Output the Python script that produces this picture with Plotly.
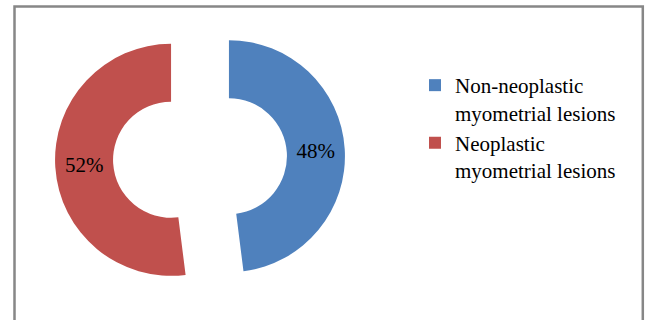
import plotly.graph_objects as go

categories = ["Non-neoplastic<br>myometrial lesions", "Neoplastic<br>myometrial lesions"]
values = [48, 52]
colors = ["#4F81BD", "#C0504D"]

W, H = 646, 320
FONT = "Liberation Serif, Times New Roman, serif"

fig = go.Figure(go.Pie(
    labels=categories,
    values=values,
    marker=dict(colors=colors, line=dict(width=0)),
    hole=0.5,
    pull=[0.25, 0.25],
    sort=False,
    direction="clockwise",
    rotation=0,
    textinfo="percent",
    textposition="inside",
    insidetextorientation="horizontal",
    insidetextfont=dict(family=FONT, size=21, color="black"),
    domain=dict(x=[55 / W, 345 / W], y=[1 - 303 / H, 1 - 13 / H]),
    hoverinfo="label+percent",
))

fig.update_layout(
    width=W, height=H,
    margin=dict(l=0, r=0, t=0, b=0),
    paper_bgcolor="white",
    plot_bgcolor="white",
    showlegend=True,
    uniformtext=dict(minsize=21, mode="show"),
    legend=dict(
        x=415 / W, xanchor="left",
        y=1 - 65 / H, yanchor="top",
        font=dict(family=FONT, size=21, color="black"),
        valign="top",
        bgcolor="rgba(0,0,0,0)",
        itemwidth=30,
        tracegroupgap=0,
    ),
    shapes=[dict(
        type="rect", xref="paper", yref="paper",
        x0=14.5 / W, x1=642.8 / W,
        y0=-0.1, y1=1 - 6.5 / H,
        line=dict(color="#878787", width=2.5),
        fillcolor="rgba(0,0,0,0)",
        layer="above",
    )],
)

fig.write_html("out.html")
